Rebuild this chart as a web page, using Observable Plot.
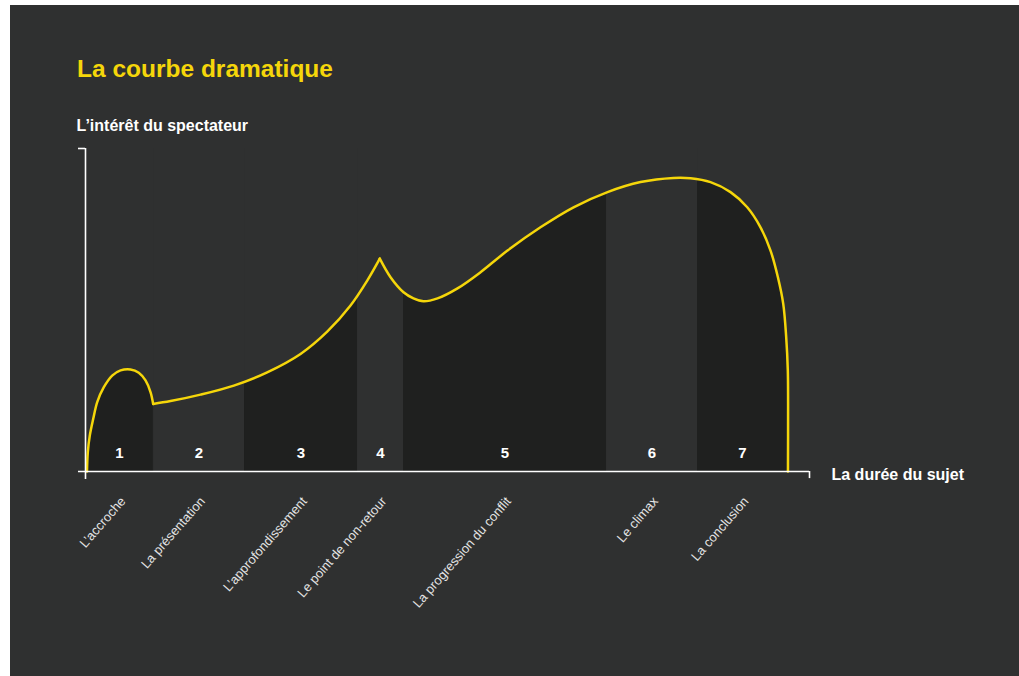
<!DOCTYPE html>
<html>
<head>
<meta charset="utf-8">
<script src="https://cdn.jsdelivr.net/npm/d3@7"></script>
<script src="https://cdn.jsdelivr.net/npm/@observablehq/plot@0.6"></script>
<style>
  html, body { margin: 0; padding: 0; background: #ffffff; }
  #panel { position: absolute; left: 10px; top: 5px; width: 1009px; height: 671px; background: #2f3030; overflow: hidden; }
  #title { position: absolute; left: 67px; top: 52px; font-family: "Liberation Sans", Arial, sans-serif; font-weight: bold; font-size: 24.5px; line-height: 24px; color: #f5d60a; white-space: nowrap; }
  #chart { position: absolute; left: 0; top: 95px; }
  #chart svg { background: transparent; overflow: visible; }
</style>
</head>
<body>
<div id="panel">
  <div id="title">La courbe dramatique</div>
  <div id="chart"></div>
</div>
<script>
// Duration (0–100 = whole story) and audience interest (0–100)
const hookX = [0.21, 0.33, 0.61, 1.10, 1.67, 2.61, 3.80, 4.99, 6.41, 7.59, 8.55, 9.26, 9.64];
const hookY = [0, 5.98, 11.1, 16.3, 21.5, 26.1, 29.7, 31.3, 31.6, 30.6, 28.2, 24.6, 20.9];

const riseX = [9.64, 12.11, 16.38, 21.13, 25.88, 30.63, 34.43, 37.75, 40.13, 41.92];
const riseY = [20.9, 21.8, 23.8, 26.6, 30.7, 36.4, 43.3, 51.4, 59.1, 65.9];

const conflictX = [41.92, 43.45, 45.30, 46.72, 48.15, 50.14, 52.99, 56.27, 60.11, 64.81, 69.52, 74.36, 79.06, 83.76, 86.18, 89.03, 91.88, 94.26, 96.15, 97.58, 98.62, 99.39, 99.81, 100.04, 100.08, 100.06];
const conflictY = [65.9, 60.15, 55.5, 53.6, 52.7, 53.6, 56.7, 61.7, 68.4, 75.6, 81.8, 86.5, 89.6, 90.9, 90.8, 89.6, 86.5, 81.8, 75.6, 68.4, 60.2, 51.9, 41.6, 31.3, 21.0, 0];

const bandStart = [0, 9.69, 22.65, 38.75, 45.30, 74.22, 87.18];
const bandEnd   = [9.69, 22.65, 38.75, 45.30, 74.22, 87.18, 100.0];
const bandNumbers = ["1", "2", "3", "4", "5", "6", "7"];
const bandLabels = ["L\u2019accroche", "La présentation", "L\u2019approfondissement", "Le point de non-retour", "La progression du conflit", "Le climax", "La conclusion"];

const yTitle = "L\u2019intérêt du spectateur";
const xTitle = "La durée du sujet";

const xMax = 103.13;

const BG = "#2f3030";
const DARK = "#1f201f";
const YELLOW = "#f5d60a";
const FONT = "Liberation Sans, Arial, sans-serif";

const segments = [[hookX, hookY], [riseX, riseY], [conflictX, conflictY]];
const curve = segments.flatMap(([xs, ys], s) => xs.map((x, i) => ({x, y: ys[i], seg: s})));

const bands = bandStart.map((a, i) => ({x1: a, x2: bandEnd[i], mid: (a + bandEnd[i]) / 2, num: bandNumbers[i], label: bandLabels[i], odd: i % 2 === 0}));
const evenBands = bands.filter(b => !b.odd);

const chart = Plot.plot({
  width: 1009,
  height: 576,
  marginLeft: 75,
  marginRight: 210,
  marginTop: 48,
  marginBottom: 205,
  x: {domain: [0, xMax], axis: null},
  y: {domain: [0, 100], axis: null},
  style: {background: "transparent", overflow: "visible"},
  marks: [
    Plot.areaY(curve, {x: "x", y1: 0, y2: "y", z: "seg", curve: "catmull-rom", fill: DARK}),
    Plot.rect(evenBands, {x1: "x1", x2: "x2", y1: 0, y2: 100, fill: BG}),
    Plot.text(bands, {x: "mid", y: 5.7, text: "num", fill: "#ffffff", fontSize: 15, fontWeight: "bold", fontFamily: FONT, lineAnchor: "middle"}),
    Plot.line(curve, {x: "x", y: "y", z: "seg", curve: "catmull-rom", stroke: YELLOW, strokeWidth: 2.5}),
    Plot.ruleY([0], {x1: -1, x2: xMax, stroke: "#ffffff", strokeWidth: 1.6}),
    Plot.ruleX([xMax], {y1: 0, y2: -2.2, stroke: "#ffffff", strokeWidth: 1.6}),
    Plot.ruleX([0], {y1: -2.5, y2: 100, stroke: "#ffffff", strokeWidth: 1.6}),
    Plot.ruleY([100], {x1: -1, x2: 0, stroke: "#ffffff", strokeWidth: 1.6}),
    Plot.text(bands, {x: d => d.mid + 0.5, y: -8.5, text: "label", rotate: -49, textAnchor: "end", lineAnchor: "middle", fill: "#e4e4e4", fontSize: 13, fontFamily: FONT}),
    Plot.text([yTitle], {frameAnchor: "top-left", dx: -9, dy: -17.5, textAnchor: "start", lineAnchor: "bottom", fill: "#ffffff", fontSize: 16, fontWeight: "bold", fontFamily: FONT}),
    Plot.text([xTitle], {frameAnchor: "bottom-right", dx: 22, dy: 8, textAnchor: "start", lineAnchor: "bottom", fill: "#ffffff", fontSize: 16, fontWeight: "bold", fontFamily: FONT})
  ]
});
document.getElementById("chart").appendChild(chart);
</script>
</body>
</html>
